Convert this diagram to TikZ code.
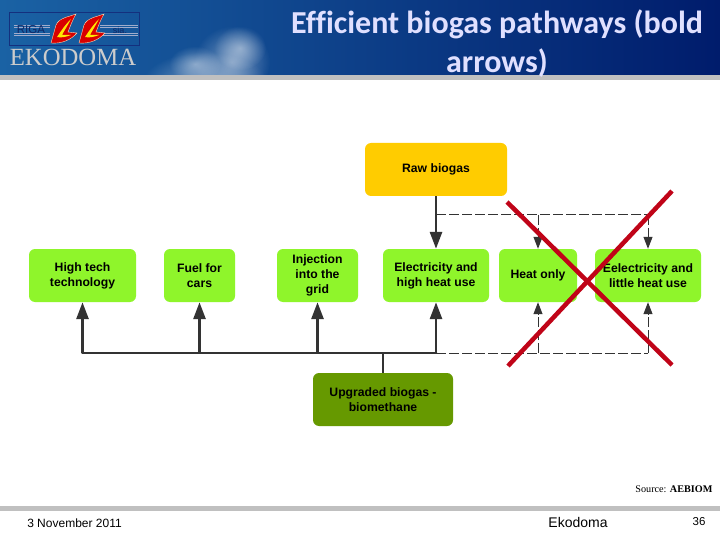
\documentclass[tikz,border=0pt]{standalone}
\usepackage{fontspec}
\setmainfont{Liberation Sans}
\newfontfamily\titlefont[Ligatures=NoCommon]{Carlito}
\newfontfamily\serifface{Liberation Serif}
\usetikzlibrary{%
  arrows.meta,
  positioning,
  calc,
  fadings
}
\definecolor{boxgreen}{HTML}{8FF52B}
\definecolor{boxolive}{HTML}{669900}
\definecolor{boxyellow}{HTML}{FFCC00}
\definecolor{linegrey}{HTML}{333333}
\definecolor{crossred}{HTML}{C00418}
\definecolor{bandgrey}{HTML}{C0C0C0}
\definecolor{headleft}{HTML}{1A62A4}
\definecolor{headmid}{HTML}{0A4A92}
\definecolor{headright}{HTML}{001C6C}
\definecolor{logoblue}{HTML}{14307E}
\tikzfading[name=fuzzy,inner color=transparent!0,outer color=transparent!100]
\tikzset{
  pathbox/.style={rounded corners=6pt,inner sep=0pt,align=center,
    font=\fontsize{12.2}{15}\selectfont\bfseries,minimum height=53pt},
  boldarrow/.style={draw=linegrey,line width=2.8pt,-{Triangle[length=17pt,width=12pt]}},
  boldline/.style={draw=linegrey,line width=2.8pt},
  thinarrow/.style={draw=linegrey,line width=1pt,dash pattern=on 10pt off 3pt,
    -{Triangle[length=12pt,width=9pt]}},
  thinline/.style={draw=linegrey,line width=1pt,dash pattern=on 10pt off 3pt},
  crossline/.style={draw=crossred,line width=4.5pt}
}
\begin{document}
\begin{tikzpicture}[x=1pt,y=-1pt]
    \def\flame(#1,#2){
      \fill[red!85!black,draw=white!70!orange,line width=0.4pt,xshift=#1pt,yshift=-#2pt] (0,0) -- (5,-18) .. controls (8,-25) and (17,-26) .. (25,-29)
        .. controls (21,-22) and (19,-16) .. (17,-11) -- (26,-10) .. controls (20,-3) and (10,1) .. (0,0) -- cycle;
      \fill[yellow!90!orange,xshift=#1pt,yshift=-#2pt] (6,-6) .. controls (10,-12) and (14,-18) .. (20,-24)
        .. controls (17,-18) and (13,-12) .. (11,-8) -- (20,-8) .. controls (15,-6) and (10,-5) .. (6,-6) -- cycle;
    }
    \useasboundingbox (0,0) rectangle (720,540);
    \fill[white] (0,0) rectangle (720,540);
    % header
    \shade[left color=headleft,middle color=headmid,right color=headright] (0,0) rectangle (720,75);
    \begin{scope}
      \clip (0,0) rectangle (720,75);
      \foreach \x/\y/\rx/\ry in {205/82/62/30,232/62/38/36,240/48/26/22,195/64/26/18} {
        \fill[white,opacity=0.42,path fading=fuzzy] (\x,\y) ellipse (\rx pt and \ry pt);
      }
    \end{scope}
    \fill[bandgrey] (0,75) rectangle (720,80);
    \fill[bandgrey] (0,506) rectangle (720,511);
    % logo
    \draw[logoblue,line width=0.6pt] (9,12) rectangle (139,45);
    \foreach \y in {25,27,33,35} {
      \draw[white!60!logoblue,line width=0.4pt] (14,\y) -- (50,\y);
      \draw[white!60!logoblue,line width=0.4pt] (100,\y) -- (138,\y);
    }
    \node[text=logoblue!80!black,font=\fontsize{11.5}{12}\selectfont] (rigaword) at (31,30) {RIGA};
    \node[text=logoblue!80!black,font=\fontsize{9}{9}\selectfont] (siaword) at (120,30) {sia.};
    \flame(51,43)
    \flame(79,43)
    \node[text=white!80!black,font=\serifface\fontsize{24.7}{25}\selectfont] (ekodomaword) at (73,57) {EKODOMA};
    % title
    \node[text=white!88!blue,align=center,font=\titlefont\bfseries\fontsize{32}{39.5}\selectfont]
      (titletext) at (497,43.5) {Efficient biogas pathways (bold\\arrows)};
    % boxes
    \node[pathbox,fill=boxyellow,minimum width=142pt] (raw) at (436,169.5) {Raw biogas};
    \node[pathbox,fill=boxgreen,minimum width=107pt] (hightech) at (82.5,275.5) {High tech\\technology};
    \node[pathbox,fill=boxgreen,minimum width=71pt] (fuel) at (199.5,275.5) {Fuel for\\cars};
    \node[pathbox,fill=boxgreen,minimum width=81pt] (grid) at (317.5,275.5) {Injection\\into the\\grid};
    \node[pathbox,fill=boxgreen,minimum width=106pt] (highheat) at (436,275.5) {Electricity and\\high heat use};
    \node[pathbox,fill=boxgreen,minimum width=78pt] (heat) at (538,275.5) {Heat only};
    \node[pathbox,fill=boxgreen,minimum width=106pt] (littleheat) at (648,275.5) {Eelectricity and\\little heat use};
    \node[pathbox,fill=boxolive,minimum width=140pt] (upgraded) at (383,399.5) {Upgraded biogas -\\biomethane};
    % junctions
    \coordinate (topright) at (littleheat.north |- 0,215);
    \coordinate (topleft) at (raw.south |- 0,215);
    \coordinate (botright) at (littleheat.south |- 0,353);
    \coordinate (botleft) at (highheat.south |- 0,353);
    \coordinate (botstart) at (hightech.south |- 0,353);
    \coordinate (botstem) at (upgraded.north |- 0,353);
    % dashed arrows
    \draw[thinline] (topleft) -- (topright);
    \draw[thinline] (botleft) -- (botright);
    \foreach \n in {heat,littleheat} {
      \draw[thinarrow] (\n.north |- topleft) -- (\n.north);
      \draw[thinarrow] (\n.south |- botleft) -- (\n.south);
    }
    % bold arrows
    \draw[boldarrow] (raw.south) -- (highheat.north);
    \draw[boldline,line cap=round] (botstart) -- (botleft);
    \draw[boldline,line width=2pt] (upgraded.north) -- (botstem);
    \foreach \n in {hightech,fuel,grid,highheat} {
      \draw[boldarrow] (\n.south |- botstart) -- (\n.south);
    }
    % red cross
    \coordinate (crossa) at (507,202);
    \coordinate (crossb) at (672,365);
    \coordinate (crossc) at (508,366);
    \coordinate (crossd) at (672,191);
    \draw[crossline] (crossa) -- (crossb);
    \draw[crossline] (crossc) -- (crossd);
    % footer
    \node[anchor=east,font=\serifface\fontsize{10.2}{12}\selectfont] (sourcetext) at (716,489) {Source: \textbf{AEBIOM}};
    \node[font=\fontsize{12}{14}\selectfont] (datetext) at (74.5,523.5) {3 November 2011};
    \node[font=\fontsize{14}{16}\selectfont] (footername) at (578,522) {Ekodoma};
    \node[font=\fontsize{11.5}{13}\selectfont] (pagenum) at (699,522) {36};
  \end{tikzpicture}
\end{document}
